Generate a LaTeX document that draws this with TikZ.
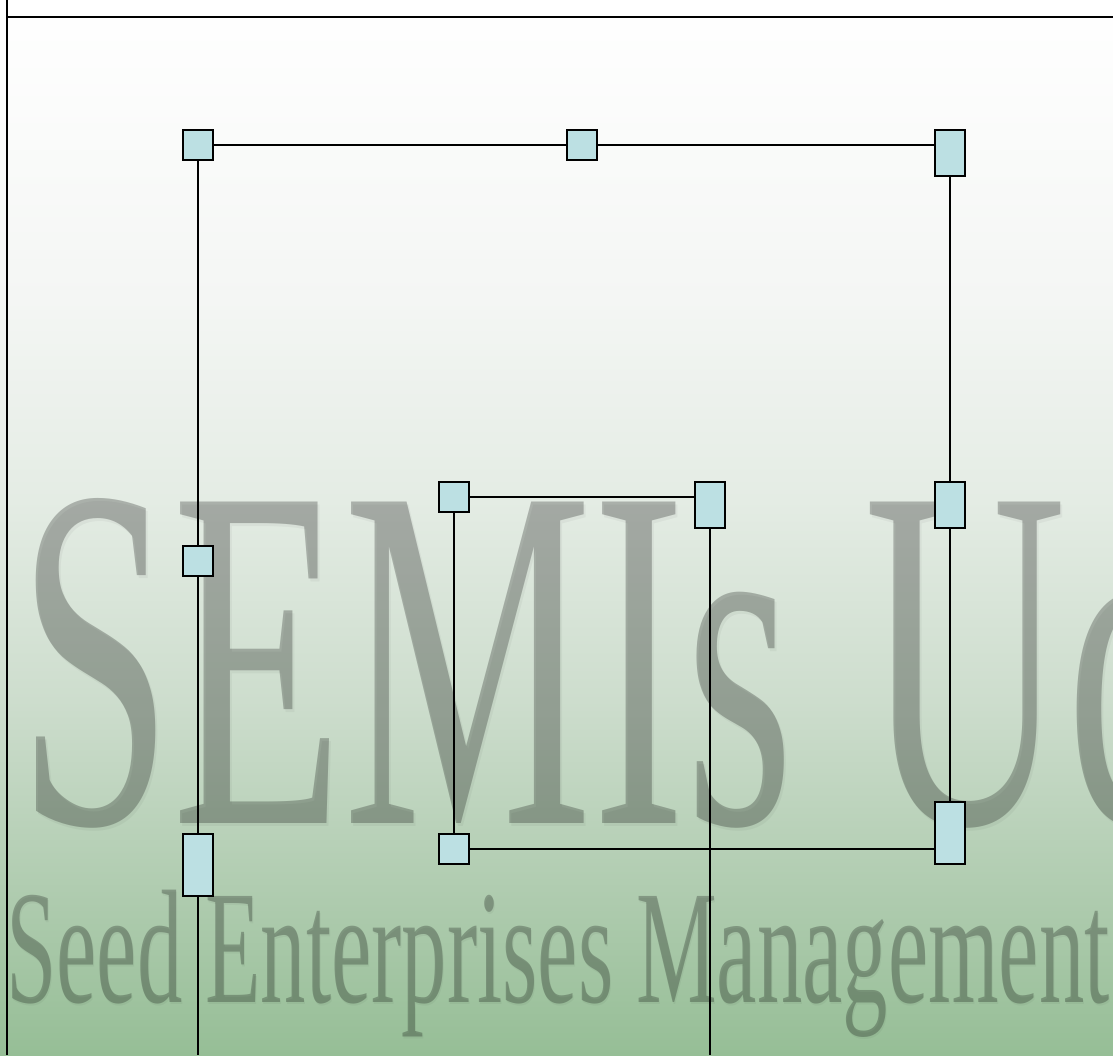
\documentclass[tikz,border=0pt]{standalone}
\usepackage{fontspec}
\setmainfont{Liberation Serif}
\definecolor{bgA}{RGB}{150,190,150}
\definecolor{bgB}{RGB}{174,203,174}
\definecolor{bgC}{RGB}{205,221,205}
\definecolor{bgD}{RGB}{228,236,228}
\definecolor{bgE}{RGB}{244,246,244}
\definecolor{bgF}{RGB}{255,255,255}
\definecolor{boxc}{RGB}{188,224,227}
\pgfdeclareverticalshading{bgshade}{100bp}{color(0bp)=(bgA); color(25bp)=(bgA); color(32.3bp)=(bgB); color(41.8bp)=(bgC); color(51.3bp)=(bgD); color(60.8bp)=(bgE); color(75bp)=(bgF); color(100bp)=(bgF)}
\newcommand{\bigwm}{\scalebox{0.57}[1]{\fontsize{491}{491}\selectfont SEMIs Uc}}
\newcommand{\smallwm}{\scalebox{0.56}[1]{\fontsize{162}{162}\selectfont Seed Enterprises Management}}
\tikzset{
  box/.style={draw=black, fill=boxc, line width=1.6pt, rectangle, inner sep=0pt, minimum width=30pt, minimum height=30pt},
  tallbox/.style={box, minimum height=46pt},
  longbox/.style={box, minimum height=62pt},
  link/.style={draw=black, line width=1.5pt},
  frame/.style={draw=black, line width=2pt},
  wmtext/.style={anchor=base west, inner sep=0pt, text=black, text opacity=0.25},
  wmshadow/.style={anchor=base west, inner sep=0pt, text=black, text opacity=0.04}
}
\begin{document}
\begin{tikzpicture}[x=1pt,y=-1pt]
\useasboundingbox (0,0) rectangle (1113,1055);
\clip (0,0) rectangle (1113,1055);
\shade[shading=bgshade] (0,0) rectangle (1113,1055);
% watermark with soft shadow
\node[wmshadow] (wm1s) at (19,826) {\bigwm};
\node[wmtext] (wm1) at (17,823) {\bigwm};
\node[wmshadow] (wm2s) at (7,1004) {\smallwm};
\node[wmtext] (wm2) at (6,1002) {\smallwm};
% frame lines
\coordinate (f1) at (7,0);
\coordinate (f2) at (7,1055);
\coordinate (f3) at (7,17);
\coordinate (f4) at (1113,17);
\draw[frame] (f1) -- (f2);
\draw[frame] (f3) -- (f4);
% boxes
\node[box] (A) at (198,145) {};
\node[box] (B) at (582,145) {};
\node[tallbox] (C) at (950,153) {};
\node[box] (D) at (198,561) {};
\node[longbox] (E) at (198,865) {};
\node[tallbox] (F) at (950,505) {};
\node[longbox] (G) at (950,833) {};
\node[box] (H) at (454,497) {};
\node[tallbox] (I) at (710,505) {};
\node[box] (J) at (454,849) {};
\coordinate (bA) at (198,1055);
\coordinate (bI) at (710,1055);
% connectors
\draw[link] (A) -- (B);
\draw[link] (B.east) -- (B.east -| C.west);
\draw[link] (A) -- (D) -- (E) -- (bA);
\draw[link] (C) -- (F) -- (G);
\draw[link] (H.east) -- (H.east -| I.west);
\draw[link] (H) -- (J);
\draw[link] (J.east) -- (J.east -| G.west);
\draw[link] (I) -- (bI);
\end{tikzpicture}
\end{document}
